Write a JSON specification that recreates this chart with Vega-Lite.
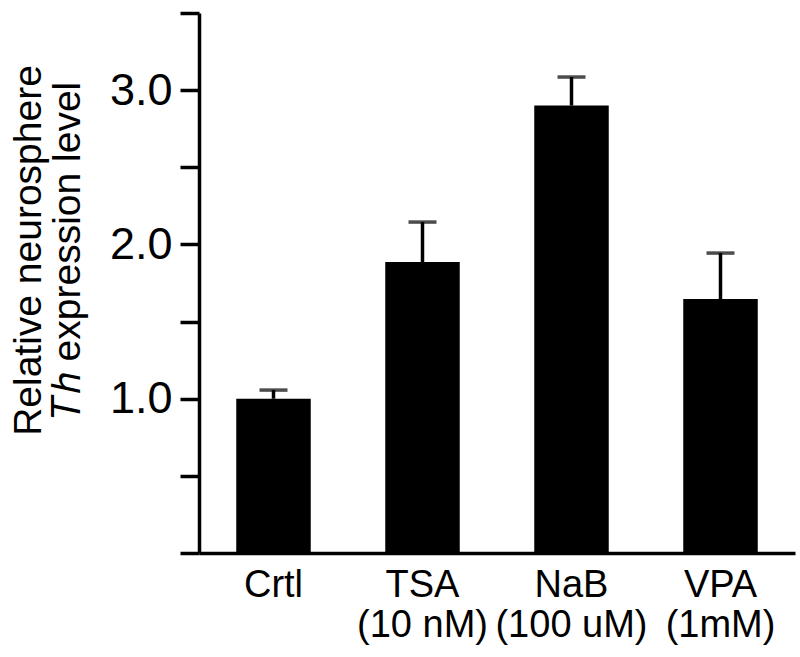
{
  "$schema": "https://vega.github.io/schema/vega-lite/v6.json",
  "autosize": "none",
  "width": 596,
  "height": 540,
  "padding": {"left": 199, "top": 13, "right": 5, "bottom": 104},
  "background": "white",
  "data": {
    "values": [
      {"group": "Crtl", "value": 1.0, "upper": 1.056},
      {"group": "TSA|(10 nM)", "value": 1.886, "upper": 2.145},
      {"group": "NaB|(100 uM)", "value": 2.90, "upper": 3.085},
      {"group": "VPA|(1mM)", "value": 1.646, "upper": 1.944}
    ]
  },
  "config": {
    "view": {"stroke": null},
    "font": "Liberation Sans",
    "axis": {"grid": false, "domainColor": "black", "tickColor": "black", "labelColor": "black", "titleColor": "black", "labelFont": "Liberation Sans", "titleFont": "Liberation Sans"}
  },
  "encoding": {
    "x": {
      "field": "group",
      "type": "nominal",
      "sort": null,
      "scale": {"paddingInner": 0.5, "paddingOuter": 0.25},
      "axis": {
        "title": null,
        "labelAngle": 0,
        "labelExpr": "split(datum.value, '|')",
        "labelFontSize": 38,
        "labelLineHeight": 40,
        "labelPadding": 13,
        "ticks": false,
        "domainWidth": 3.5,
        "labelBaseline": "top"
      }
    }
  },
  "layer": [
    {
      "mark": {"type": "bar", "color": "black"},
      "encoding": {
        "y": {
          "field": "value",
          "type": "quantitative",
          "scale": {"domain": [0, 3.5], "nice": false},
          "axis": {
            "values": [0, 0.5, 1, 1.5, 2, 2.5, 3, 3.5],
            "labelExpr": "(datum.value == 1 || datum.value == 2 || datum.value == 3) ? format(datum.value, '.1f') : ''",
            "labelFontSize": 45,
            "labelPadding": 8,
            "tickSize": 19,
            "tickWidth": 3.5,
            "domainWidth": 3.5,
            "title": ["Relative neurosphere", "𝑇ℎ expression level"],
            "titleFontSize": 39,
            "titleFontWeight": "normal",
            "titleLineHeight": 39,
            "titlePadding": 22,
            "titleY": 237
          }
        }
      }
    },
    {
      "mark": {"type": "rule", "color": "black", "strokeWidth": 3.5},
      "encoding": {
        "y": {"field": "value", "type": "quantitative"},
        "y2": {"field": "upper"}
      }
    },
    {
      "mark": {"type": "tick", "color": "black", "thickness": 3.5, "size": 28},
      "encoding": {
        "y": {"field": "upper", "type": "quantitative"}
      }
    }
  ]
}
